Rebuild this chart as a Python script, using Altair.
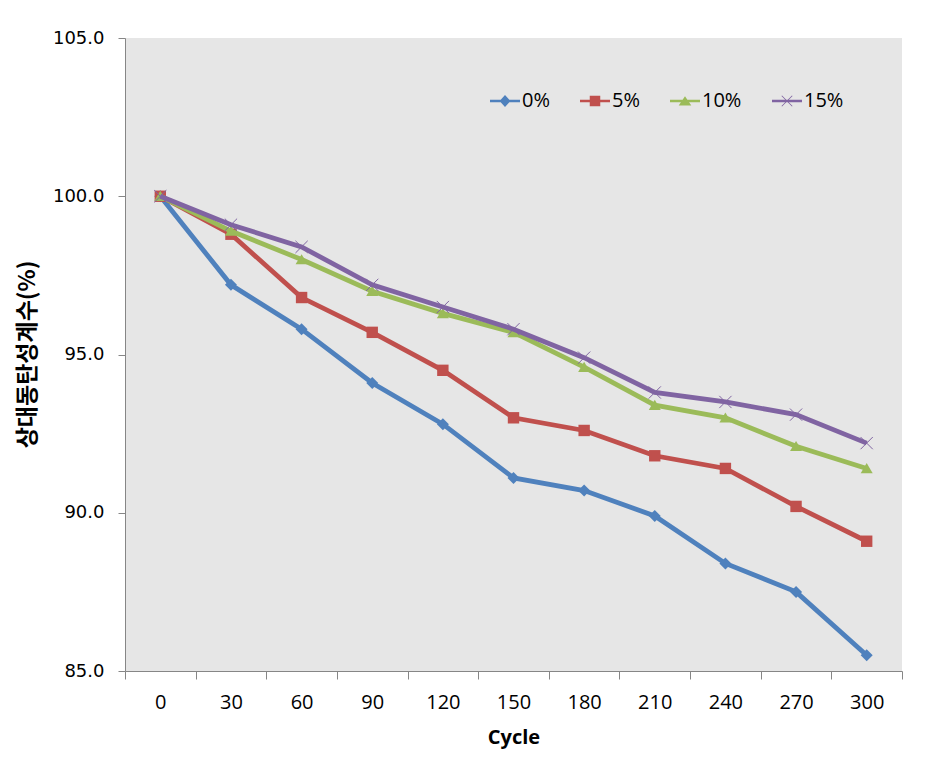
import altair as alt
import pandas as pd

cycles = [0, 30, 60, 90, 120, 150, 180, 210, 240, 270, 300]
series_names = ["0%", "5%", "10%", "15%"]
v0 = [100.0, 97.2, 95.8, 94.1, 92.8, 91.1, 90.7, 89.9, 88.4, 87.5, 85.5]
v5 = [100.0, 98.8, 96.8, 95.7, 94.5, 93.0, 92.6, 91.8, 91.4, 90.2, 89.1]
v10 = [100.0, 98.9, 98.0, 97.0, 96.3, 95.7, 94.6, 93.4, 93.0, 92.1, 91.4]
v15 = [100.0, 99.1, 98.4, 97.2, 96.5, 95.8, 94.9, 93.8, 93.5, 93.1, 92.2]
y_ticks = [85, 90, 95, 100, 105]
colors = ["#4F81BD", "#C0504D", "#9BBB59", "#8064A2"]

marker_paths = [
    "M0,-1L1,0L0,1L-1,0Z",
    "M-1,-1H1V1H-1Z",
    "M0,-0.9L1,0.8H-1Z",
    "M-1,-1L1,1M-1,1L1,-1",
]
legend_paths = [
    "M-1,-0.08H1V0.08H-1Z M0,-0.4L0.36,0L0,0.4L-0.36,0Z",
    "M-1,-0.08H1V0.08H-1Z M-0.35,-0.35H0.35V0.35H-0.35Z",
    "M-1,-0.08H1V0.08H-1Z M0,-0.32L0.42,0.3H-0.42Z",
    "M-1,-0.08H1V0.08H-1Z M-0.37,-0.33L-0.33,-0.37L0.37,0.33L0.33,0.37Z M0.33,-0.37L0.37,-0.33L-0.33,0.37L-0.37,0.33Z",
]

rows = []
for name, vals in zip(series_names, [v0, v5, v10, v15]):
    for c, v in zip(cycles, vals):
        rows.append({"cycle": c, "value": v, "series": name})
df = pd.DataFrame(rows)

x_enc = alt.X(
    "cycle:O",
    sort=cycles,
    scale=alt.Scale(type="band", paddingInner=0, paddingOuter=0),
    axis=alt.Axis(
        title="Cycle",
        labelAngle=0,
        tickBand="extent",
        tickSize=8,
        labelPadding=13,
        labelFont="Open Sans",
        labelFontSize=20,
        labelColor="black",
        titleFont="Open Sans",
        titleFontWeight="bold",
        titleFontSize=20,
        titleColor="black",
        titlePadding=15,
        domainColor="#868686",
        tickColor="#868686",
        grid=False,
    ),
)
y_enc = alt.Y(
    "value:Q",
    scale=alt.Scale(domain=[85, 105], nice=False, zero=False),
    axis=alt.Axis(
        title="상대동탄성계수(%)",
        values=y_ticks,
        format=".1f",
        tickSize=7,
        labelPadding=14,
        labelFont="DejaVu Sans",
        labelFontSize=18,
        labelColor="black",
        titleFont="Noto Sans CJK KR",
        titleFontWeight="bold",
        titleFontSize=23,
        titleColor="black",
        titleX=-98,
        titleY=316,
        titleAlign="center",
        titleBaseline="middle",
        domainColor="#868686",
        tickColor="#868686",
        grid=False,
    ),
)

layers = []
for i, name in enumerate(series_names):
    base = alt.Chart(df).transform_filter(alt.datum.series == name)
    layers.append(
        base.mark_line(color=colors[i], strokeWidth=4.8).encode(x=x_enc, y=y_enc)
    )
    if i == 3:
        pm = base.mark_point(
            shape=marker_paths[i], filled=False, strokeWidth=1, size=150,
            color=colors[i], opacity=1,
        )
    else:
        pm = base.mark_point(
            shape=marker_paths[i], filled=True, size=144 if i != 1 else 130,
            color=colors[i], opacity=1, strokeWidth=0,
        )
    layers.append(pm.encode(x=x_enc, y=y_enc))

leg = alt.Legend(
    title=None,
    orient="none",
    legendX=365,
    legendY=48,
    direction="horizontal",
    columns=4,
    columnPadding=30,
    symbolSize=900,
    symbolOpacity=1,
    symbolStrokeWidth=0,
    labelFont="Open Sans",
    labelFontSize=20,
    labelColor="black",
    labelOffset=2,
    padding=0,
)
legend_layer = alt.Chart(df).mark_point(filled=True, opacity=0).encode(
    x=x_enc,
    y=y_enc,
    color=alt.Color("series:N", sort=series_names,
                    scale=alt.Scale(domain=series_names, range=colors), legend=leg),
    shape=alt.Shape("series:N", sort=series_names,
                    scale=alt.Scale(domain=series_names, range=legend_paths), legend=leg),
)
layers.append(legend_layer)

chart = alt.layer(*layers).properties(
    width=777,
    height=633,
    autosize=alt.AutoSizeParams(type="none"),
    padding={"left": 117, "top": 30, "right": 30, "bottom": 95},
    background="white",
).configure_view(fill="#E6E6E6", stroke=None)

chart.save("out.html", embed_options={"renderer": "svg", "actions": False})
